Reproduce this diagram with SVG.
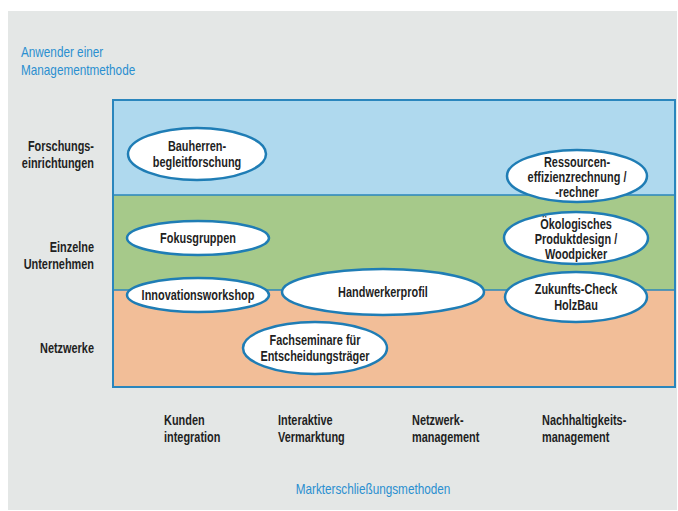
<svg xmlns="http://www.w3.org/2000/svg" width="678" height="511" viewBox="0 0 678 511">
  <style>
    .lbl { font-family: "Liberation Sans", Arial, sans-serif; font-weight: bold; font-size: 14px; fill: #1f1f1f; }
    .mid { text-anchor: middle; }
    .end { text-anchor: end; }
    .axis { font-family: "Liberation Sans", Arial, sans-serif; font-size: 14px; fill: #2a8fd0; }
    .node ellipse { fill: #ffffff; stroke: #1f7db5; stroke-width: 2.5; }
    .sep { stroke: #2a86bd; stroke-width: 1.5; }
  </style>

  <!-- page background and panel -->
  <rect x="0" y="0" width="678" height="511" fill="#ffffff"/>
  <rect x="8" y="11" width="669" height="499" fill="#e4e7e6"/>

  <!-- axis titles (condensed by horizontal scaling) -->
  <text class="axis" transform="translate(21 57) scale(0.84 1)">Anwender einer</text>
  <text class="axis" transform="translate(21 75) scale(0.84 1)">Managementmethode</text>
  <text class="axis mid" transform="translate(373 494) scale(0.84 1)">Markterschließungsmethoden</text>

  <!-- row bands -->
  <rect x="113" y="100" width="562" height="95" fill="#afd9ee"/>
  <rect x="113" y="195" width="562" height="95" fill="#a6c98a"/>
  <rect x="113" y="290" width="562" height="97" fill="#f2be98"/>

  <g id="connectors">
    <line class="sep" x1="113" y1="195" x2="675" y2="195"/>
    <line class="sep" x1="113" y1="290" x2="675" y2="290"/>
    <rect x="113" y="100" width="562" height="287" fill="none" stroke="#2a86bd" stroke-width="2"/>
  </g>

  <!-- row labels -->
  <text class="lbl end" transform="translate(94 151) scale(0.78 1)">Forschungs-</text>
  <text class="lbl end" transform="translate(94 168) scale(0.78 1)">einrichtungen</text>
  <text class="lbl end" transform="translate(94 252) scale(0.78 1)">Einzelne</text>
  <text class="lbl end" transform="translate(94 269) scale(0.78 1)">Unternehmen</text>
  <text class="lbl end" transform="translate(94 353) scale(0.78 1)">Netzwerke</text>

  <!-- column labels -->
  <text class="lbl" transform="translate(164 425) scale(0.78 1)">Kunden</text>
  <text class="lbl" transform="translate(164 442) scale(0.78 1)">integration</text>
  <text class="lbl" transform="translate(278 425) scale(0.78 1)">Interaktive</text>
  <text class="lbl" transform="translate(278 442) scale(0.78 1)">Vermarktung</text>
  <text class="lbl" transform="translate(412 425) scale(0.78 1)">Netzwerk-</text>
  <text class="lbl" transform="translate(412 442) scale(0.78 1)">management</text>
  <text class="lbl" transform="translate(542 425) scale(0.78 1)">Nachhaltigkeits-</text>
  <text class="lbl" transform="translate(542 442) scale(0.78 1)">management</text>

  <!-- method nodes -->
  <g id="bauherren" class="node">
    <ellipse cx="197" cy="154" rx="69" ry="26"/>
    <text class="lbl mid" transform="translate(197 151) scale(0.78 1)">Bauherren-</text>
    <text class="lbl mid" transform="translate(197 167) scale(0.78 1)">begleitforschung</text>
  </g>
  <g id="ressourcen" class="node">
    <ellipse cx="577" cy="176" rx="70" ry="26"/>
    <text class="lbl mid" transform="translate(577 167) scale(0.78 1)">Ressourcen-</text>
    <text class="lbl mid" transform="translate(577 182) scale(0.78 1)">effizienzrechnung /</text>
    <text class="lbl mid" transform="translate(577 197) scale(0.78 1)">-rechner</text>
  </g>
  <g id="fokusgruppen" class="node">
    <ellipse cx="198" cy="238" rx="71" ry="17"/>
    <text class="lbl mid" transform="translate(198 243) scale(0.78 1)">Fokusgruppen</text>
  </g>
  <g id="oekologisch" class="node">
    <ellipse cx="576" cy="238" rx="72" ry="26"/>
    <text class="lbl mid" transform="translate(576 229) scale(0.78 1)">Ökologisches</text>
    <text class="lbl mid" transform="translate(576 244) scale(0.78 1)">Produktdesign /</text>
    <text class="lbl mid" transform="translate(576 259) scale(0.78 1)">Woodpicker</text>
  </g>
  <g id="innovationsworkshop" class="node">
    <ellipse cx="198" cy="295" rx="71" ry="17"/>
    <text class="lbl mid" transform="translate(198 300) scale(0.78 1)">Innovationsworkshop</text>
  </g>
  <g id="handwerkerprofil" class="node">
    <ellipse cx="383" cy="292" rx="101" ry="23"/>
    <text class="lbl mid" transform="translate(383 297) scale(0.78 1)">Handwerkerprofil</text>
  </g>
  <g id="zukunftscheck" class="node">
    <ellipse cx="576" cy="297" rx="71" ry="25"/>
    <text class="lbl mid" transform="translate(576 294) scale(0.78 1)">Zukunfts-Check</text>
    <text class="lbl mid" transform="translate(576 310) scale(0.78 1)">HolzBau</text>
  </g>
  <g id="fachseminare" class="node">
    <ellipse cx="315" cy="348" rx="72" ry="26"/>
    <text class="lbl mid" transform="translate(315 345) scale(0.78 1)">Fachseminare für</text>
    <text class="lbl mid" transform="translate(315 361) scale(0.78 1)">Entscheidungsträger</text>
  </g>
</svg>
